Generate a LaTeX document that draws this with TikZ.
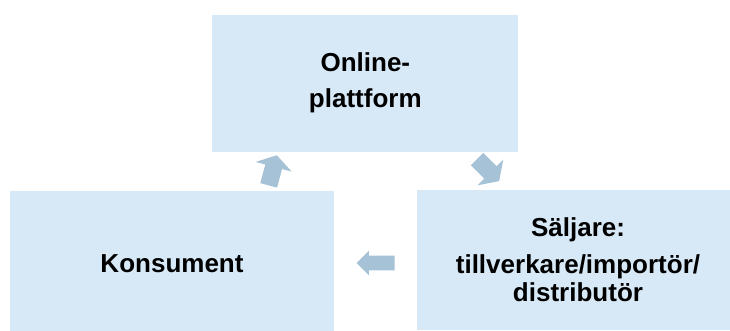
\documentclass[tikz,border=0pt]{standalone}
\usepackage{fontspec}
\setmainfont{Liberation Sans}
\usepackage{tikz}
\usetikzlibrary{shapes,shapes.arrows}
\definecolor{boxblue}{RGB}{215,233,246}
\definecolor{arrowblue}{RGB}{165,194,214}

\begin{document}
\begin{tikzpicture}[
	box/.style = {fill=boxblue, inner sep=0pt, align=center, font=\bfseries\fontsize{18.5}{20.1}\selectfont},
	flowarrow/.style = {single arrow, fill=arrowblue, inner xsep=0pt, text width=0pt}]
	\useasboundingbox (0,0) rectangle (18.25,8.25);
	\clip (0,0) rectangle (18.25,8.25);
	\node[box, minimum width=7.65cm, minimum height=3.425cm] (platform) at (9.133,6.17) {Online-\\[5.5pt]plattform};
	\node[box, minimum width=8.1cm, minimum height=3.66cm] (consumer) at (4.3,1.654) {Konsument};
	\node[box, minimum width=8.05cm, minimum height=3.5cm] (seller) at (14.45,1.75) {Säljare:\\[6pt]tillverkare/importör/\\distributör};
	\node[flowarrow, minimum height=.95cm, inner ysep=.175cm, single arrow head extend=.125cm, single arrow tip angle=90, rotate=180] (sell) at (9.48,1.675) {};
	\node[flowarrow, minimum height=.78cm, inner ysep=.21cm, single arrow head extend=.25cm, single arrow tip angle=115, rotate=75] (order) at (6.8,3.925) {};
	\node[flowarrow, minimum height=.78cm, inner ysep=.21cm, single arrow head extend=.24cm, single arrow tip angle=112, rotate=-45] (forward) at (12.15,4.05) {};
\end{tikzpicture}
\end{document}
